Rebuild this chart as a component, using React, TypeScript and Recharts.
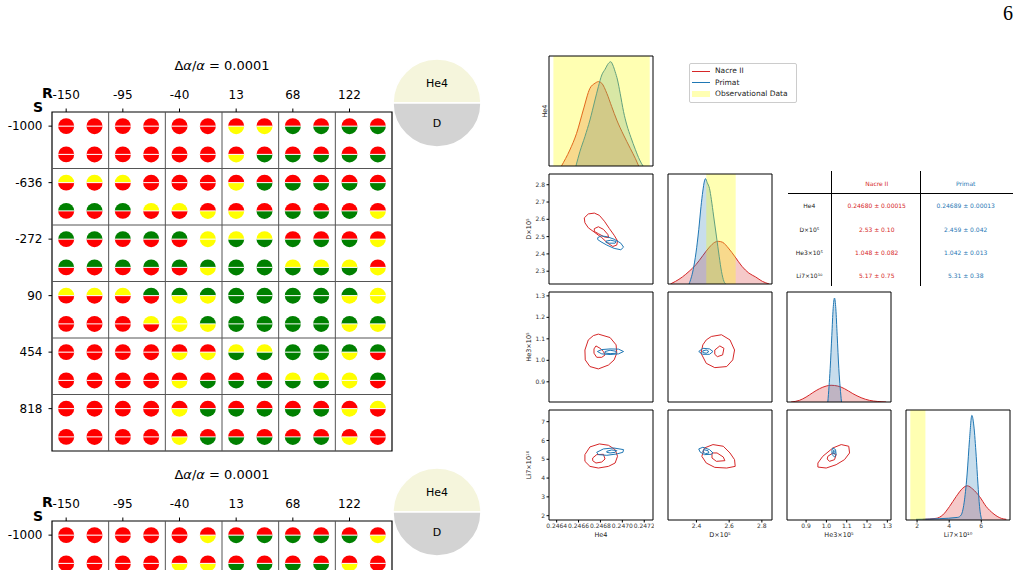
import React from 'react';
import {
  ScatterChart, Scatter, ComposedChart, Area, Line, XAxis, YAxis,
  ReferenceArea, ReferenceLine, PieChart, Pie, Cell,
} from 'recharts';

type Pt = [number, number];

// ---- left panel: parameter scan ----
const rValues = [-150, -95, -40, 13, 68, 122];
const sValues = [-1000, -636, -272, 90, 454, 818];

// one string per circle row, one letter per circle: R red, Y yellow, G green
const he4Status = [
  'RRRRRRRRRRRR', 'RRRRRRRRRRRR', 'YYYRRRRRRRRR', 'GGGYYRRRRRRR',
  'GGGGGYYYRRRR', 'GGGGGGGGYYYR', 'YYYGGGGGGGGY', 'RRRYYGGGGGGG',
  'RRRRRRYYGGGG', 'RRRRRRRRYYYG', 'RRRRRRRRRRRY', 'RRRRRRRRRRRR',
];
const dStatus = [
  'RRRRRRYYGGGG', 'RRRRRRYGGGGG', 'RRRRRRYGGGGG', 'RRRRRYYGGGGY',
  'RRRRRYGGGGGY', 'RRRRRYGGGGGY', 'RRRRYYGGGGYY', 'RRRRYYGGGGYY',
  'RRRRYYGGGGYR', 'RRRRYGGGGGYR', 'RRRRYGGGGGYR', 'RRRRYGGGGGYR',
];
const he4Status2 = ['RRRRRRRRRRRR', 'RRRRRRRRRRRR'];
const dStatus2 = ['RRRRRYGGGGGY', 'RRRRYYGGGGYR'];

const pieLabels = ['He4', 'D'];
const pieColors = ['#f5f5dc', '#d3d3d3'];

// ---- right panel: posterior corner plot ----
const he4Obs: Pt = [0.24637, 0.24725];
const dObs: Pt = [2.46, 2.64];
const li7Obs: Pt = [1.58, 2.52];

const nacreHe4Kde: Pt[] = [[0.246444, 0], [0.24652, 0.145], [0.246582, 0.297], [0.246643, 0.509], [0.246704, 0.706], [0.24675, 0.752], [0.246781, 0.767], [0.246812, 0.752], [0.246858, 0.661], [0.246903, 0.539], [0.246949, 0.418], [0.247011, 0.282], [0.247072, 0.161], [0.247118, 0.07], [0.247149, 0]];
const primatHe4Kde: Pt[] = [[0.246576, 0], [0.246612, 0.13], [0.246658, 0.267], [0.246704, 0.418], [0.24675, 0.6], [0.246781, 0.721], [0.246812, 0.827], [0.246842, 0.879], [0.246873, 0.933], [0.246894, 0.948], [0.246913, 0.918], [0.246934, 0.858], [0.246956, 0.782], [0.24698, 0.661], [0.247011, 0.494], [0.247041, 0.373], [0.247078, 0.261], [0.247118, 0.152], [0.247158, 0.055], [0.247189, 0]];
const nacreDKde: Pt[] = [[2.241, 0], [2.272, 0.024], [2.314, 0.064], [2.355, 0.115], [2.397, 0.176], [2.439, 0.258], [2.48, 0.336], [2.512, 0.379], [2.533, 0.388], [2.56, 0.379], [2.595, 0.327], [2.637, 0.245], [2.678, 0.161], [2.72, 0.1], [2.762, 0.064], [2.803, 0.024], [2.845, 0]];
const primatDKde: Pt[] = [[2.355, 0], [2.38, 0.13], [2.397, 0.282], [2.414, 0.494], [2.428, 0.706], [2.439, 0.845], [2.449, 0.936], [2.455, 0.958], [2.466, 0.921], [2.48, 0.867], [2.491, 0.77], [2.505, 0.618], [2.522, 0.436], [2.539, 0.252], [2.553, 0.115], [2.568, 0.024], [2.58, 0]];
const nacreHe3Kde: Pt[] = [[0.826, 0], [0.867, 0.015], [0.9, 0.045], [0.933, 0.085], [0.966, 0.121], [0.999, 0.145], [1.023, 0.152], [1.056, 0.145], [1.089, 0.121], [1.13, 0.076], [1.171, 0.039], [1.212, 0.015], [1.294, 0]];
const primatHe3Kde: Pt[] = [[1.007, 0], [1.0185, 0.303], [1.0267, 0.606], [1.0332, 0.848], [1.0398, 0.945], [1.0464, 0.848], [1.053, 0.606], [1.0612, 0.303], [1.0743, 0]];
const nacreLi7Kde: Pt[] = [[2.352, 0.006], [3.185, 0.015], [3.602, 0.046], [4.018, 0.122], [4.435, 0.213], [4.852, 0.29], [5.123, 0.311], [5.477, 0.28], [5.893, 0.213], [6.31, 0.122], [6.727, 0.061], [7.248, 0.015], [7.56, 0.006]];
const primatLi7Kde: Pt[] = [[1.935, 0.006], [3.393, 0.012], [4.539, 0.024], [4.748, 0.046], [4.956, 0.183], [5.123, 0.427], [5.268, 0.732], [5.414, 0.951], [5.539, 0.854], [5.685, 0.579], [5.789, 0.335], [5.893, 0.122], [6.018, 0.006]];

const nacreHe4D: Pt[][] = [
  [[0.246652, 2.608], [0.246689, 2.631], [0.246744, 2.636], [0.24679, 2.623], [0.246836, 2.589], [0.246882, 2.546], [0.246925, 2.508], [0.246956, 2.475], [0.246949, 2.451], [0.246913, 2.443], [0.246867, 2.462], [0.246812, 2.494], [0.24675, 2.523], [0.246689, 2.551], [0.246658, 2.58]],
  [[0.246744, 2.546], [0.246781, 2.557], [0.246827, 2.542], [0.246867, 2.513], [0.246876, 2.494], [0.246836, 2.498], [0.246781, 2.517], [0.246744, 2.53]],
];
const primatHe4D: Pt[][] = [
  [[0.246775, 2.494], [0.246805, 2.504], [0.246858, 2.5], [0.246925, 2.485], [0.246986, 2.462], [0.247011, 2.439], [0.246986, 2.424], [0.246925, 2.432], [0.246858, 2.451], [0.246805, 2.47], [0.246775, 2.483]],
  [[0.246851, 2.474], [0.246894, 2.479], [0.246943, 2.472], [0.246934, 2.462], [0.246882, 2.462], [0.246851, 2.466]],
];
const nacreHe4He3: Pt[][] = [
  [[0.246781, 1.122], [0.246888, 1.106], [0.246943, 1.072], [0.246949, 1.033], [0.246925, 1.002], [0.246873, 0.978], [0.246781, 0.96], [0.246704, 0.971], [0.246661, 1.002], [0.246658, 1.048], [0.246689, 1.095], [0.246735, 1.115]],
  [[0.246759, 1.067], [0.246796, 1.056], [0.246827, 1.041], [0.246842, 1.025], [0.246812, 1.014], [0.246766, 1.014], [0.246741, 1.033], [0.246741, 1.053]],
];
const primatHe4He3: Pt[][] = [
  [[0.246772, 1.041], [0.246812, 1.05], [0.246888, 1.053], [0.246965, 1.052], [0.247011, 1.041], [0.246965, 1.03], [0.246888, 1.027], [0.246812, 1.03]],
  [[0.246842, 1.041], [0.246888, 1.047], [0.246943, 1.042], [0.246943, 1.033], [0.246888, 1.031], [0.246842, 1.034]],
];
const nacreHe4Li7: Pt[][] = [
  [[0.246658, 5.246], [0.246704, 5.656], [0.24679, 5.816], [0.246873, 5.745], [0.246934, 5.513], [0.246956, 5.157], [0.246934, 4.8], [0.246873, 4.622], [0.246781, 4.533], [0.246704, 4.622], [0.246658, 4.889]],
  [[0.246729, 5.068], [0.246766, 5.246], [0.246827, 5.264], [0.246842, 5.014], [0.246812, 4.854], [0.246759, 4.8], [0.246729, 4.925]],
];
const primatHe4Li7: Pt[][] = [
  [[0.246766, 5.371], [0.246827, 5.549], [0.246919, 5.602], [0.247011, 5.513], [0.247005, 5.371], [0.246949, 5.282], [0.246858, 5.21], [0.246781, 5.246]],
  [[0.246858, 5.424], [0.246903, 5.495], [0.246949, 5.46], [0.246934, 5.371], [0.246888, 5.335], [0.246858, 5.371]],
];
const nacreDHe3: Pt[][] = [
  [[2.491, 1.111], [2.553, 1.119], [2.605, 1.095], [2.633, 1.048], [2.622, 1.002], [2.585, 0.971], [2.512, 0.966], [2.46, 0.986], [2.428, 1.033], [2.439, 1.072], [2.46, 1.095]],
  [[2.512, 1.048], [2.543, 1.067], [2.568, 1.056], [2.56, 1.025], [2.528, 1.017], [2.512, 1.028]],
];
const primatDHe3: Pt[][] = [
  [[2.414, 1.041], [2.439, 1.056], [2.48, 1.053], [2.501, 1.041], [2.48, 1.028], [2.439, 1.028]],
  [[2.439, 1.044], [2.46, 1.048], [2.476, 1.041], [2.46, 1.033], [2.439, 1.036]],
];
const nacreDLi7: Pt[][] = [
  [[2.449, 5.602], [2.501, 5.781], [2.564, 5.692], [2.605, 5.335], [2.633, 4.979], [2.637, 4.622], [2.585, 4.533], [2.512, 4.569], [2.46, 4.8], [2.433, 5.157]],
  [[2.495, 5.335], [2.526, 5.335], [2.564, 5.121], [2.574, 4.925], [2.522, 4.889], [2.495, 5.068]],
];
const primatDLi7: Pt[][] = [
  [[2.414, 5.549], [2.439, 5.638], [2.48, 5.513], [2.501, 5.335], [2.491, 5.264], [2.449, 5.246], [2.422, 5.389]],
  [[2.443, 5.513], [2.47, 5.46], [2.476, 5.335], [2.455, 5.3], [2.439, 5.389]],
];
const nacreHe3Li7: Pt[][] = [
  [[0.958, 4.8], [0.982, 5.157], [1.032, 5.602], [1.073, 5.781], [1.11, 5.692], [1.114, 5.335], [1.089, 4.979], [1.048, 4.711], [0.999, 4.533], [0.958, 4.586]],
  [[1.007, 5.157], [1.032, 5.335], [1.048, 5.246], [1.04, 4.979], [1.015, 4.889], [1.004, 5.014]],
];
const primatHe3Li7: Pt[][] = [
  [[1.032, 5.602], [1.045, 5.513], [1.048, 5.246], [1.04, 5.121], [1.028, 5.246], [1.027, 5.478]],
  [[1.035, 5.478], [1.043, 5.406], [1.041, 5.282], [1.033, 5.3]],
];

const tableRows = ['He4', 'D×10⁵', 'He3×10⁵', 'Li7×10¹⁰'];
const nacreSummary = ['0.24680 ± 0.00015', '2.53 ± 0.10', '1.048 ± 0.082', '5.17 ± 0.75'];
const primatSummary = ['0.24689 ± 0.00013', '2.459 ± 0.042', '1.042 ± 0.013', '5.31 ± 0.38'];

const RED = '#d62728';
const BLUE = '#1f77b4';
const STATUS_FILL: Record<string, string> = { R: '#ff0000', Y: '#ffff00', G: '#008000' };
const FONT = '"DejaVu Sans", sans-serif';

const toRows = (pts: Pt[]) => pts.map(([x, y]) => ({ x, y }));
const fix = (n: number) => (v: number) => v.toFixed(n);

// ---------- scan grid ----------
function HalfDot(props: any) {
  const { cx, cy, payload } = props;
  const r = 8;
  return (
    <g>
      <path d={`M${cx - r},${cy} A${r},${r} 0 0 1 ${cx + r},${cy} Z`} fill={STATUS_FILL[payload.top]} />
      <path d={`M${cx - r},${cy} A${r},${r} 0 0 0 ${cx + r},${cy} Z`} fill={STATUS_FILL[payload.bottom]} />
      <line x1={cx - r} x2={cx + r} y1={cy} y2={cy} stroke="#fff" strokeWidth={1} />
    </g>
  );
}

function ScanBlock({ offset, top, bottom }: { offset: number; top: string[]; bottom: string[] }) {
  const pts = top.flatMap((row, j) => row.split('').map((c, i) => ({ i, j, top: c, bottom: bottom[j][i] })));
  const n = rValues.length * 2;
  const ticks = rValues.map((_, k) => 2 * k);
  const rowTicks = ticks.filter((t) => t < top.length);
  const dividers = rValues.slice(1).map((_, k) => 2 * k + 1.5);
  return (
    <>
      <div style={{ position: 'absolute', left: 122, width: 200, top: offset + 58, textAlign: 'center', fontSize: 13 }}>
        Δ<i>α</i>/<i>α</i> = 0.0001
      </div>
      <div style={{ position: 'absolute', left: 42, top: offset + 85, fontSize: 14, fontWeight: 'bold' }}>R</div>
      <div style={{ position: 'absolute', left: 33, top: offset + 99, fontSize: 14, fontWeight: 'bold' }}>S</div>
      <div style={{ position: 'absolute', left: 0, top: offset }}>
        <ScatterChart width={400} height={460} margin={{ top: 82, right: 8, bottom: 9, left: 0 }}>
          <XAxis type="number" dataKey="i" orientation="top" domain={[-0.5, n - 0.5]} ticks={ticks} interval={0}
            tickFormatter={(v: number) => String(rValues[v / 2])} height={30} axisLine={false}
            tickSize={3.5} tickMargin={10} tick={{ fontSize: 12, fill: '#000' }} tickLine={{ stroke: '#000' }} />
          <YAxis type="number" dataKey="j" reversed domain={[-0.5, n - 0.5]} ticks={rowTicks} interval={0}
            tickFormatter={(v: number) => String(sValues[v / 2])} width={52} axisLine={false}
            tickSize={3.5} tickMargin={6} tick={{ fontSize: 12, fill: '#000' }} tickLine={{ stroke: '#000' }} />
          {dividers.map((v) => <ReferenceLine key={'x' + v} x={v} stroke="#555" strokeWidth={1} />)}
          {dividers.map((v) => <ReferenceLine key={'y' + v} y={v} stroke="#555" strokeWidth={1} />)}
          <ReferenceArea x1={-0.5} x2={n - 0.5} y1={-0.5} y2={n - 0.5} fill="none" stroke="#000" strokeWidth={1.2} />
          <Scatter data={pts} shape={HalfDot} isAnimationActive={false} />
        </ScatterChart>
      </div>
      <div style={{ position: 'absolute', left: 387, top: offset + 53 }}>
        <PieChart width={100} height={100} margin={{ top: 0, right: 0, bottom: 0, left: 0 }}>
          <Pie data={pieLabels.map((name) => ({ name, value: 1 }))} dataKey="value" nameKey="name"
            cx={50} cy={50} outerRadius={44} startAngle={0} endAngle={360}
            stroke="#fff" strokeWidth={1.5} labelLine={false} isAnimationActive={false}
            label={(p: any) => {
              const a = (-p.midAngle * Math.PI) / 180;
              return (
                <text x={p.cx + 20 * Math.cos(a)} y={p.cy + 20 * Math.sin(a)} textAnchor="middle"
                  dominantBaseline="central" fontSize={11} fill="#000">{p.payload.name}</text>
              );
            }}>
            {pieLabels.map((name, k) => <Cell key={name} fill={pieColors[k]} />)}
          </Pie>
        </PieChart>
      </div>
    </>
  );
}

// ---------- corner plot ----------
const colLeft = [549, 668, 787, 906];
const rowTop = [56, 174, 292, 410];
const BOX_W = 104;
const BOX_H = 110;

type AxisSpec = { domain: [number, number]; ticks?: number[]; fmt?: (v: number) => string };

const he4Axis: AxisSpec = { domain: [0.24633, 0.24728], ticks: [0.2464, 0.2466, 0.2468, 0.247, 0.2472], fmt: fix(4) };
const dAxisX: AxisSpec = { domain: [2.226, 2.862], ticks: [2.4, 2.6, 2.8], fmt: fix(1) };
const dAxisY: AxisSpec = { domain: [2.226, 2.862], ticks: [2.3, 2.4, 2.5, 2.6, 2.7, 2.8], fmt: fix(1) };
const he3Axis: AxisSpec = { domain: [0.806, 1.318], ticks: [0.9, 1.0, 1.1, 1.2, 1.3], fmt: fix(1) };
const li7AxisY: AxisSpec = { domain: [1.77, 7.62], ticks: [2, 3, 4, 5, 6, 7], fmt: fix(0) };
const li7AxisX: AxisSpec = { domain: [1.31, 7.79], ticks: [2, 4, 6], fmt: fix(0) };
const kdeAxis: AxisSpec = { domain: [0, 1] };

function CornerPanel({ row, col, x, y, children }: { row: number; col: number; x: AxisSpec; y: AxisSpec; children: React.ReactNode }) {
  const showX = row === 3;
  const showY = col === 0 && row > 0;
  const yw = showY ? 22 : 0;
  const xh = showX ? 12 : 0;
  return (
    <div style={{ position: 'absolute', left: colLeft[col] - yw - 1, top: rowTop[row] - 1 }}>
      <ComposedChart width={yw + BOX_W + 2} height={BOX_H + xh + 2} margin={{ top: 1, right: 1, bottom: 1, left: 1 }}>
        <XAxis type="number" dataKey="x" domain={x.domain} allowDataOverflow ticks={x.ticks} tickFormatter={x.fmt}
          interval={0} hide={!showX} height={xh} axisLine={false} tickSize={2.5} tickMargin={1}
          tick={{ fontSize: 6, fill: '#333' }} tickLine={{ stroke: '#000' }} />
        <YAxis type="number" domain={y.domain} allowDataOverflow ticks={y.ticks} tickFormatter={y.fmt}
          interval={0} hide={!showY} width={yw} axisLine={false} tickSize={2.5} tickMargin={1.5}
          tick={{ fontSize: 6, fill: '#333' }} tickLine={{ stroke: '#000' }} />
        {children}
        <ReferenceArea x1={x.domain[0]} x2={x.domain[1]} y1={y.domain[0]} y2={y.domain[1]}
          fill="none" stroke="#000" strokeWidth={1} />
      </ComposedChart>
    </div>
  );
}

const contours = (sets: Pt[][], color: string, id: string) =>
  sets.map((pts, k) => (
    <Line key={id + k} data={toRows(pts)} dataKey="y" type="linearClosed" stroke={color} strokeWidth={1}
      dot={false} activeDot={false} isAnimationActive={false} />
  ));

const kde = (pts: Pt[], color: string, id: string) => (
  <Area key={id} data={toRows(pts)} dataKey="y" type="monotone" stroke={color} strokeWidth={1}
    fill={color} fillOpacity={0.25} baseValue={0} dot={false} activeDot={false} isAnimationActive={false} />
);

// observational band laid over the densities, tinting them
const band = (range: Pt, id: string) => (
  <Area key={id} data={range.map((x) => ({ x, y: 1 }))} dataKey="y" type="linear" stroke="none"
    fill="#ffff00" fillOpacity={0.3} baseValue={0} dot={false} activeDot={false} isAnimationActive={false} />
);

function Txt({ x, y, children, size = 6, color = '#222', rotate = false }: any) {
  return (
    <div style={{
      position: 'absolute', left: x, top: y, fontSize: size, color, whiteSpace: 'nowrap',
      transform: `translate(-50%, -50%)${rotate ? ' rotate(-90deg)' : ''}`,
    }}>{children}</div>
  );
}

function Corner() {
  const rowY = [205.3, 228.5, 251.5, 274.7];
  return (
    <>
      <CornerPanel row={0} col={0} x={he4Axis} y={kdeAxis}>
        {kde(nacreHe4Kde, RED, 'n')}{kde(primatHe4Kde, BLUE, 'p')}{band(he4Obs, 'b')}
      </CornerPanel>
      <CornerPanel row={1} col={0} x={he4Axis} y={dAxisY}>
        {contours(nacreHe4D, RED, 'n')}{contours(primatHe4D, BLUE, 'p')}
      </CornerPanel>
      <CornerPanel row={1} col={1} x={dAxisX} y={kdeAxis}>
        {kde(nacreDKde, RED, 'n')}{kde(primatDKde, BLUE, 'p')}{band(dObs, 'b')}
      </CornerPanel>
      <CornerPanel row={2} col={0} x={he4Axis} y={he3Axis}>
        {contours(nacreHe4He3, RED, 'n')}{contours(primatHe4He3, BLUE, 'p')}
      </CornerPanel>
      <CornerPanel row={2} col={1} x={dAxisX} y={he3Axis}>
        {contours(nacreDHe3, RED, 'n')}{contours(primatDHe3, BLUE, 'p')}
      </CornerPanel>
      <CornerPanel row={2} col={2} x={he3Axis} y={kdeAxis}>
        {kde(nacreHe3Kde, RED, 'n')}{kde(primatHe3Kde, BLUE, 'p')}
      </CornerPanel>
      <CornerPanel row={3} col={0} x={he4Axis} y={li7AxisY}>
        {contours(nacreHe4Li7, RED, 'n')}{contours(primatHe4Li7, BLUE, 'p')}
      </CornerPanel>
      <CornerPanel row={3} col={1} x={dAxisX} y={li7AxisY}>
        {contours(nacreDLi7, RED, 'n')}{contours(primatDLi7, BLUE, 'p')}
      </CornerPanel>
      <CornerPanel row={3} col={2} x={he3Axis} y={li7AxisY}>
        {contours(nacreHe3Li7, RED, 'n')}{contours(primatHe3Li7, BLUE, 'p')}
      </CornerPanel>
      <CornerPanel row={3} col={3} x={li7AxisX} y={kdeAxis}>
        {kde(nacreLi7Kde, RED, 'n')}{kde(primatLi7Kde, BLUE, 'p')}{band(li7Obs, 'b')}
      </CornerPanel>

      {/* axis titles */}
      <Txt x={545} y={111} rotate size={6.5}>He4</Txt>
      <Txt x={529} y={229} rotate size={6.5}>D×10⁵</Txt>
      <Txt x={529} y={347} rotate size={6.5}>He3×10⁵</Txt>
      <Txt x={529} y={465} rotate size={6.5}>Li7×10¹⁰</Txt>
      <Txt x={601} y={535} size={6.5}>He4</Txt>
      <Txt x={720} y={535} size={6.5}>D×10⁵</Txt>
      <Txt x={839} y={535} size={6.5}>He3×10⁵</Txt>
      <Txt x={958} y={535} size={6.5}>Li7×10¹⁰</Txt>

      {/* legend */}
      <div style={{ position: 'absolute', left: 689, top: 63, width: 106, height: 38, border: '1px solid #ccc', borderRadius: 2, background: '#fff' }} />
      {[RED, BLUE].map((c, k) => (
        <div key={c} style={{ position: 'absolute', left: 692, top: 70.5 + k * 11.7, width: 18, height: 1.2, background: c }} />
      ))}
      <div style={{ position: 'absolute', left: 692, top: 91, width: 18, height: 6, background: '#ffffb3' }} />
      {['Nacre II', 'Primat', 'Observational Data'].map((t, k) => (
        <div key={t} style={{ position: 'absolute', left: 715, top: 66 + k * 11.7, fontSize: 7.5, color: '#222', whiteSpace: 'nowrap' }}>{t}</div>
      ))}

      {/* summary table */}
      <div style={{ position: 'absolute', left: 831, top: 171, width: 1, height: 115, background: '#000' }} />
      <div style={{ position: 'absolute', left: 920, top: 171, width: 1, height: 115, background: '#000' }} />
      <div style={{ position: 'absolute', left: 788, top: 193, width: 225, height: 1, background: '#000' }} />
      <Txt x={876.7} y={183} color={RED}>Nacre II</Txt>
      <Txt x={965.7} y={183} color={BLUE}>Primat</Txt>
      {tableRows.map((t, k) => (
        <React.Fragment key={t}>
          <Txt x={809.3} y={rowY[k]}>{t}</Txt>
          <Txt x={876.7} y={rowY[k]} color={RED}>{nacreSummary[k]}</Txt>
          <Txt x={965.7} y={rowY[k]} color={BLUE}>{primatSummary[k]}</Txt>
        </React.Fragment>
      ))}
    </>
  );
}

export default function App() {
  return (
    <div style={{ position: 'absolute', left: 0, top: 0, width: 1020, height: 570, overflow: 'hidden', background: '#fff', fontFamily: FONT, color: '#000' }}>
      <div style={{ position: 'absolute', right: 7, top: 2, fontFamily: '"Liberation Serif", serif', fontSize: 20 }}>6</div>
      <ScanBlock offset={0} top={he4Status} bottom={dStatus} />
      <ScanBlock offset={409} top={he4Status2} bottom={dStatus2} />
      <Corner />
    </div>
  );
}
